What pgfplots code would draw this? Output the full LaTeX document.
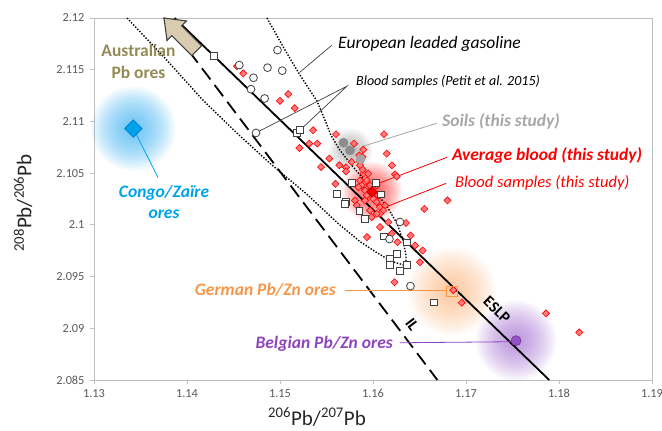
\documentclass[border=0pt]{standalone}
\usepackage{fontspec}
\setmainfont{Carlito}
\usepackage{pgfplots}
\usepackage{pgfplotstable}
\pgfplotsset{compat=1.18}
\definecolor{axgray}{HTML}{BFBFBF}
\definecolor{tickgray}{HTML}{595959}
\definecolor{dkgray}{HTML}{404040}
\definecolor{dfill}{HTML}{FF7A7A}
\definecolor{congo}{HTML}{00A3E8}
\definecolor{congoglow}{HTML}{2AAAF0}
\definecolor{congoedge}{HTML}{0077C8}
\definecolor{austr}{HTML}{948A54}
\definecolor{tan}{HTML}{D8CBB0}
\definecolor{german}{HTML}{F79646}
\definecolor{germanglow}{HTML}{FBA560}
\definecolor{belg}{HTML}{8D44BC}
\definecolor{belgfill}{HTML}{9353C6}
\definecolor{belgglow}{HTML}{9A62CC}
\definecolor{soilgray}{HTML}{A6A6A6}
\definecolor{soilfill}{HTML}{8C8C8C}

\pgfplotstableread{
x y
1.14538 2.11535
1.14605 2.11464
1.15089 2.11264
1.15000 2.11199
1.15158 2.11128
1.15355 2.10915
1.15602 2.10876
1.15208 2.10743
1.15315 2.10786
1.15401 2.10786
1.15530 2.10641
1.16118 2.10876
1.15796 2.10786
1.15896 2.10728
1.15853 2.10672
1.16147 2.10689
1.15638 2.10576
1.15710 2.10556
1.15771 2.10608
1.15860 2.10608
1.15889 2.10656
1.16204 2.10576
1.16237 2.10488
1.15896 2.10495
1.15949 2.10495
1.15860 2.10430
1.15932 2.10430
1.15879 2.10382
1.15932 2.10362
1.16040 2.10382
1.15914 2.10333
1.16057 2.10285
1.15932 2.10285
1.16003 2.10253
1.15914 2.10236
1.16040 2.10220
1.16075 2.10171
1.16129 2.10188
1.16111 2.10140
1.15597 2.10396
1.15806 2.10236
1.15825 2.10188
1.15968 2.10140
1.15986 2.10075
1.16165 2.10026
1.15441 2.10559
1.16552 2.10154
1.16801 2.10236
1.16355 2.10018
1.16075 2.10108
1.16075 2.09978
1.15935 2.09881
1.16201 2.09914
1.16263 2.09832
1.16405 2.09897
1.16452 2.09800
1.16534 2.09752
1.16505 2.09639
1.16231 2.09445
1.16863 2.09369
1.16954 2.09248
1.17860 2.09144
1.18218 2.08960
1.16040 2.10108
1.15710 2.10517
1.15889 2.10534
1.15968 2.10382
1.15842 2.10365
1.16003 2.10317
1.16255 2.10469
1.15860 2.10576
}\bloodthis

\pgfplotstableread{
x y
1.14287 2.11634
1.15180 2.10890
1.15215 2.10918
1.15774 2.10409
1.16034 2.10408
1.15608 2.10301
1.16083 2.10295
1.15708 2.10224
1.15694 2.10203
1.15853 2.10138
1.15914 2.10054
1.16115 2.09888
1.16366 2.09831
1.16261 2.09720
1.16180 2.09672
1.16183 2.09616
1.16290 2.09558
1.16366 2.09610
1.16656 2.09251
}\petitsquares

\pgfplotstableread{
x y
1.14973 2.11690
1.14562 2.11545
1.14866 2.11520
1.15024 2.11491
1.14715 2.11422
1.14688 2.11312
1.14835 2.11222
1.14742 2.10889
1.16290 2.10028
1.16177 2.09863
1.16403 2.09408
}\petitcircles

\pgfplotstableread{
x y
1.13355 2.12000
1.13763 2.11612
1.14172 2.11205
1.14538 2.10886
1.14892 2.10595
1.15290 2.10295
1.15624 2.10014
1.15860 2.09839
1.16022 2.09742
1.16129 2.09684
1.16237 2.09636
1.16355 2.09607
}\dotleft

\pgfplotstableread{
x y
1.14860 2.12000
1.15054 2.11690
1.15215 2.11448
1.15398 2.11196
1.15484 2.11012
1.15548 2.10866
1.15645 2.10721
1.15763 2.10585
1.15882 2.10459
1.16011 2.10333
1.16151 2.10178
1.16258 2.10014
1.16323 2.09849
1.16355 2.09703
1.16355 2.09607
}\dotright

\newcommand\annfont{\fontsize{17.5}{21}\selectfont}
\newcommand\glow[5]{%
  \pgfplotsinvokeforeach{1,...,20}{%
    \fill[#3, fill opacity=#5] (axis cs:#1,#2) circle ({#4pt*(21-##1)/20});}}

\begin{document}
\begin{tikzpicture}[x=1pt,y=1pt]
\useasboundingbox (0,0) rectangle (662,431);
\begin{axis}[
  at={(94pt,51pt)}, anchor=south west,
  width=558pt, height=362pt, scale only axis,
  xmin=1.13, xmax=1.19, ymin=2.085, ymax=2.12,
  clip=false,
  axis line style={axgray, line width=0.8pt},
  tick pos=left, tick align=outside,
  major tick length=4pt,
  every tick/.style={axgray, line width=0.8pt},
  xtick={1.13,1.14,1.15,1.16,1.17,1.18,1.19},
  xticklabels={1.13,1.14,1.15,1.16,1.17,1.18,1.19},
  ytick={2.085,2.09,2.095,2.1,2.105,2.11,2.115,2.12},
  yticklabels={2.085,2.09,2.095,2.1,2.105,2.11,2.115,2.12},
  ticklabel style={font=\fontsize{12.3}{14}\selectfont, text=tickgray},
  yticklabel style={xshift=-2pt},
  xticklabel style={yshift=-2pt},
]
% glows
\glow{1.13423}{2.10931}{congoglow}{42}{0.055}
\glow{1.15760}{2.10721}{gray}{22}{0.04}
\glow{1.15989}{2.10319}{red}{30}{0.05}
\glow{1.16849}{2.09355}{germanglow}{44}{0.045}
\glow{1.17538}{2.08880}{belgglow}{40}{0.05}

% dotted envelope (European leaded gasoline)
\addplot[black, line width=1.4pt, dash pattern=on 1.4pt off 1.6pt] table {\dotleft};
\addplot[black, line width=1.4pt, dash pattern=on 1.4pt off 1.6pt] table {\dotright};

% blood samples this study
\addplot[only marks, mark=square*, mark size=2.5pt,
  mark options={rotate=45, fill=dfill, draw=red, line width=0.6pt}] table {\bloodthis};

% IL and ESLP
\addplot[black, line width=1.8pt, dash pattern=on 14pt off 7pt] coordinates {(1.13753,2.12) (1.16692,2.085)};
\addplot[black, line width=1.8pt] coordinates {(1.13867,2.12) (1.17895,2.085)};

% leader lines
\draw[dkgray, line width=0.7pt] (axis cs:1.15559,2.11738) -- (axis cs:1.15215,2.11477);
\draw[dkgray, line width=0.7pt] (axis cs:1.14753,2.10895) -- (axis cs:1.15720,2.11341) -- (axis cs:1.15231,2.10929);
\draw[soilgray, line width=0.8pt] (axis cs:1.16688,2.10983) -- (axis cs:1.15892,2.10760);
\draw[red, line width=0.8pt] (axis cs:1.16796,2.10653) -- (axis cs:1.16075,2.10406);
\draw[red, line width=0.8pt] (axis cs:1.16785,2.10401) -- (axis cs:1.16151,2.10178);
\draw[congo, line width=0.8pt] (axis cs:1.13423,2.10931) -- (axis cs:1.13688,2.10459);
\draw[german, line width=0.8pt] (axis cs:1.15699,2.09364) -- (axis cs:1.16796,2.09364);
\draw[belg, line width=0.8pt] (axis cs:1.16290,2.08860) -- (axis cs:1.17495,2.08870);

% Petit et al. 2015 samples
\addplot[only marks, mark=square*, mark size=3.4pt,
  mark options={fill=white, draw=dkgray, line width=0.8pt}] table {\petitsquares};
\addplot[only marks, mark=*, mark size=3.9pt,
  mark options={fill=white, draw=dkgray, line width=0.8pt}] table {\petitcircles};

% soils
\addplot[only marks, mark=*, mark size=4.6pt,
  mark options={fill=soilfill, draw=soilfill}] coordinates {(1.15683,2.10794) (1.15753,2.10721)};
\addplot[only marks, mark=*, mark size=4.6pt,
  mark options={fill=soilgray, draw=soilgray}] coordinates {(1.15866,2.10634)};

% average blood
\addplot[only marks, mark=square*, mark size=3.6pt,
  mark options={rotate=45, fill=red, draw=red!70!black, line width=0.8pt}] coordinates {(1.15989,2.10319)};

% ores
\addplot[only marks, mark=square*, mark size=6.2pt,
  mark options={rotate=45, fill=congo, draw=congoedge, line width=0.6pt}] coordinates {(1.13423,2.10931)};
\addplot[only marks, mark=square, mark size=5.3pt,
  mark options={draw=german, line width=0.9pt}] coordinates {(1.16849,2.09355)};
\addplot[only marks, mark=*, mark size=5pt,
  mark options={fill=belgfill, draw=belg!80!black, line width=0.6pt}] coordinates {(1.17538,2.08880)};

% texts
\node[anchor=west, inner sep=0, font=\annfont\itshape] at (axis cs:1.15624,2.11748) {European leaded gasoline};
\node[anchor=west, inner sep=0, font=\fontsize{14}{17}\selectfont\itshape] at (axis cs:1.15817,2.11390) {Blood samples (Petit et al. 2015)};
\node[anchor=west, inner sep=0, font=\annfont\bfseries\itshape, text=soilgray] at (axis cs:1.16742,2.11002) {Soils (this study)};
\node[anchor=west, inner sep=0, font=\annfont\bfseries\itshape, text=red] at (axis cs:1.16849,2.10672) {Average blood (this study)};
\node[anchor=west, inner sep=0, font=\fontsize{16.5}{20}\selectfont\itshape, text=red] at (axis cs:1.16882,2.10411) {Blood samples (this study)};
\node[align=center, inner sep=0, font=\annfont\bfseries\itshape, text=congo] at (axis cs:1.13753,2.10222) {Congo/Zaïre\\ores};
\node[align=center, inner sep=0, font=\fontsize{17.5}{22}\selectfont\bfseries, text=austr] at (axis cs:1.13478,2.11583) {Australian\\Pb ores};
\node[anchor=east, inner sep=0, font=\annfont\bfseries\itshape, text=german] at (axis cs:1.15602,2.09374) {German Pb/Zn ores};
\node[anchor=east, inner sep=0, font=\annfont\bfseries\itshape, text=belg] at (axis cs:1.16215,2.08851) {Belgian Pb/Zn ores};
\node[rotate=-44, inner sep=0, font=\fontsize{16}{19}\selectfont\bfseries] at (axis cs:1.17333,2.09180) {ESLP};
\node[rotate=-53, inner sep=0, font=\fontsize{16}{19}\selectfont\bfseries] at (axis cs:1.16420,2.09035) {IL};
\end{axis}

% arrow (Australian Pb ores direction)
\filldraw[fill=tan, draw=dkgray, line width=1.1pt, line join=miter]
  (164,413) -- (186.5,410) -- (181.6,405.3) -- (201.6,385.3) -- (191.7,375.4) -- (171.7,395.4) -- (167,390.5) -- cycle;

% axis labels
\node[inner sep=0, font=\fontsize{21}{25}\selectfont, text=black!85] at (317,14) {\textsuperscript{206}Pb/\textsuperscript{207}Pb};
\node[rotate=90, inner sep=0, font=\fontsize{21}{25}\selectfont, text=black!85] at (23,228) {\textsuperscript{208}Pb/\textsuperscript{206}Pb};
\end{tikzpicture}
\end{document}
